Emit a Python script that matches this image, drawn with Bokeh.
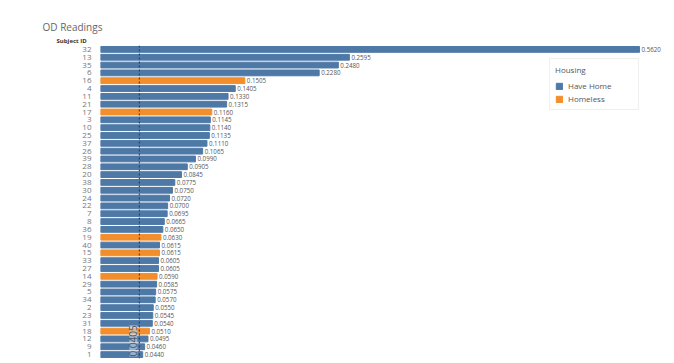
import math
from bokeh.plotting import figure
from bokeh.models import ColumnDataSource, Range1d, Span, Label, Title
from bokeh.core.properties import value
from bokeh.embed import file_html
from bokeh.resources import INLINE

subjects = ["32", "13", "35", "6", "16", "4", "11", "21", "17", "3",
            "10", "25", "37", "26", "39", "28", "20", "38", "30", "24",
            "22", "7", "8", "36", "19", "40", "15", "33", "27", "14",
            "29", "5", "34", "2", "23", "31", "18", "12", "9", "1"]
od_values = [0.5620, 0.2595, 0.2480, 0.2280, 0.1505, 0.1405, 0.1330, 0.1315, 0.1160, 0.1145,
             0.1140, 0.1135, 0.1110, 0.1065, 0.0990, 0.0905, 0.0845, 0.0775, 0.0750, 0.0720,
             0.0700, 0.0695, 0.0665, 0.0650, 0.0630, 0.0615, 0.0615, 0.0605, 0.0605, 0.0590,
             0.0585, 0.0575, 0.0570, 0.0550, 0.0545, 0.0540, 0.0510, 0.0495, 0.0460, 0.0440]
homeless_ids = ["16", "17", "19", "15", "14", "18"]
housing = ["Homeless" if s in homeless_ids else "Have Home" for s in subjects]
reference_value = 0.0405

BLUE = "#4e79a7"
ORANGE = "#f28e2b"
colors = [ORANGE if h == "Homeless" else BLUE for h in housing]
labels = ["%.4f" % v for v in od_values]

source = ColumnDataSource(dict(subject=subjects, od=od_values, housing=housing,
                               color=colors, label=labels))

FONT = "Open Sans"

p = figure(width=674, height=363, output_backend="svg", toolbar_location=None,
           y_range=list(reversed(subjects)), x_range=Range1d(0, 0.5985),
           min_border_left=100, min_border_right=0, min_border_top=45, min_border_bottom=5)
p.outline_line_color = None
p.xgrid.visible = False
p.ygrid.visible = False
p.xaxis.visible = False
p.background_fill_color = "white"
p.border_fill_color = "white"

yax = p.yaxis[0]
yax.axis_line_color = None
yax.major_tick_line_color = None
yax.minor_tick_line_color = None
yax.major_label_standoff = 3
yax.major_label_text_font_size = "8px"
yax.major_label_text_color = "#777777"
yax.major_label_text_font = FONT

p.hbar(y="subject", right="od", left=0, height=0.74, color="color", source=source,
       legend_field="housing")

p.text(x="od", y="subject", text="label", source=source, x_offset=2,
       text_font=value(FONT), text_font_size="6.2px", text_color="#555555",
       text_baseline="middle", text_align="left")

p.add_layout(Span(location=reference_value, dimension="height", line_color="#333333",
                  line_dash="2 2", line_width=1))

p.add_layout(Label(x=reference_value, y=0, x_units="data", y_units="screen",
                   text="%.4f" % reference_value, angle=math.pi / 2, x_offset=-2, y_offset=2,
                   text_align="left", text_baseline="bottom", text_font=FONT,
                   text_font_size="10px", text_color="#555555",
                   background_fill_color="#c6d9ec", background_fill_alpha=0.6))

p.add_layout(Title(text="Subject ID", align="left", offset=-44, standoff=1,
                   text_font=FONT, text_font_size="6px", text_color="#333333",
                   text_font_style="bold"), "above")
p.add_layout(Title(text="OD Readings", align="left", offset=-58, standoff=2,
                   text_font=FONT, text_font_size="10px", text_color="#666666",
                   text_font_style="normal"), "above")

lg = p.legend[0]
lg.location = (449, 248)
lg.title = "Housing"
lg.title_text_font = FONT
lg.title_text_font_style = "normal"
lg.title_text_font_size = "8px"
lg.title_text_color = "#555555"
lg.title_standoff = 5
lg.label_text_font = FONT
lg.label_text_font_size = "8px"
lg.label_text_color = "#555555"
lg.glyph_width = 8
lg.glyph_height = 8
lg.label_height = 11
lg.label_width = 65
lg.label_standoff = 5
lg.spacing = 2
lg.padding = 5
lg.margin = 0
lg.border_line_color = "#e0e0e0"
lg.background_fill_alpha = 1.0

open("out.html", "w").write(file_html(p, INLINE))
